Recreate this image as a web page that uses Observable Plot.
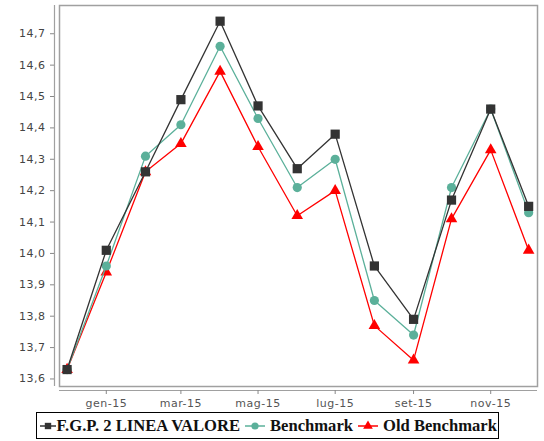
<!DOCTYPE html>
<html><head><meta charset="utf-8">
<script src="https://cdn.jsdelivr.net/npm/d3@7"></script>
<script src="https://cdn.jsdelivr.net/npm/@observablehq/plot@0.6"></script>
<style>
body{margin:0;background:#fff;}
#chart svg{display:block;}
#legend{box-sizing:border-box;margin:2px 0 0 36px;width:463px;height:27px;border:1.5px solid #000;display:flex;align-items:center;
  font-family:"Liberation Serif","DejaVu Serif",serif;font-weight:bold;font-size:16.6px;color:#111;padding-left:2.5px;white-space:nowrap;}
#legend .item{display:flex;align-items:center;margin-right:5px;}
#legend svg{margin-right:5px;}
#legend .item:first-child svg{margin-right:1px;}
</style></head><body><div id="chart"></div><div id="legend"></div>
<script>
const months = ["2014-12-01","2015-01-01","2015-02-01","2015-03-01","2015-04-01","2015-05-01","2015-06-01","2015-07-01","2015-08-01","2015-09-01","2015-10-01","2015-11-01","2015-12-01"];
const fgp      = [13.63,14.01,14.26,14.49,14.74,14.47,14.27,14.38,13.96,13.79,14.17,14.46,14.15];
const bench    = [13.63,13.96,14.31,14.41,14.66,14.43,14.21,14.30,13.85,13.74,14.21,14.46,14.13];
const oldBench = [13.63,13.94,14.26,14.35,14.58,14.34,14.12,14.20,13.77,13.66,14.11,14.33,14.01];
const seriesNames = ["F.G.P. 2 LINEA VALORE","Benchmark","Old Benchmark"];
const seriesColors = ["#333333","#5bb09a","#ff0000"];
const seriesSymbols = ["square","circle","triangle"];
const seriesR = [5.2,4.6,4.3];
const xTickDates = ["2015-01-01","2015-03-01","2015-05-01","2015-07-01","2015-09-01","2015-11-01"];
const xTickLabels = ["gen-15","mar-15","mag-15","lug-15","set-15","nov-15"];
const yTicks = [13.6,13.7,13.8,13.9,14.0,14.1,14.2,14.3,14.4,14.5,14.6,14.7];

const parse = d3.utcParse("%Y-%m-%d");
const seriesValues = [fgp, bench, oldBench];
const rows = [];
seriesNames.forEach((s, k) => months.forEach((m, i) => rows.push({series: s, date: parse(m), value: seriesValues[k][i]})));
const labelMap = new Map(xTickDates.map((d, i) => [+parse(d), xTickLabels[i]]));
const locale = d3.formatLocale({decimal: ",", thousands: ".", grouping: [3], currency: ["€", ""]});
const yFmt = locale.format(".1f");
const xDomain = [parse("2014-11-25"), parse("2015-12-08")];
const yDomain = [13.576, 14.79];

const marks = [
  Plot.frame({stroke: "#a0a0a0", strokeWidth: 1.5}),
  Plot.ruleX([xDomain[0]], {dx: -5, stroke: "#a0a0a0", strokeWidth: 1.2}),
  Plot.ruleY([yDomain[0]], {dy: 4, stroke: "#a0a0a0", strokeWidth: 1.2}),
  Plot.axisY({ticks: yTicks, tickFormat: yFmt, tickSize: 4, dx: -5, tickPadding: 5, stroke: "#888", fill: "#444", label: null}),
  Plot.axisX({ticks: xTickDates.map(parse), tickFormat: d => labelMap.get(+d), tickSize: 4, dy: 4, tickPadding: 5, stroke: "#888", fill: "#555", label: null})
];
for (let k = seriesNames.length - 1; k >= 0; k--) {
  const data = rows.filter(r => r.series === seriesNames[k]);
  marks.push(Plot.line(data, {x: "date", y: "value", stroke: seriesColors[k], strokeWidth: 1.3}));
  marks.push(Plot.dot(data, {x: "date", y: "value", fill: seriesColors[k], symbol: () => seriesSymbols[k], r: seriesR[k]}));
}

const chart = Plot.plot({
  width: 544, height: 410,
  marginLeft: 59, marginRight: 7, marginTop: 5, marginBottom: 24,
  x: {type: "utc", domain: xDomain},
  y: {domain: yDomain},
  symbol: {domain: seriesSymbols, range: seriesSymbols},
  style: {fontFamily: "DejaVu Sans", fontSize: "11px", letterSpacing: "0.5px", background: "#fff"},
  marks
});
document.getElementById("chart").append(chart);

const legend = document.getElementById("legend");
seriesNames.forEach((s, k) => {
  const item = document.createElement("div");
  item.className = "item";
  const ns = "http://www.w3.org/2000/svg";
  const w = k === 0 ? 16 : 20;
  const sv = document.createElementNS(ns, "svg");
  sv.setAttribute("width", w); sv.setAttribute("height", 12);
  const ln = document.createElementNS(ns, "line");
  ln.setAttribute("x1", 0); ln.setAttribute("x2", w); ln.setAttribute("y1", 6); ln.setAttribute("y2", 6);
  ln.setAttribute("stroke", seriesColors[k]); ln.setAttribute("stroke-width", 1.5);
  sv.append(ln);
  const p = document.createElementNS(ns, "path");
  const sym = {square: d3.symbolSquare, circle: d3.symbolCircle, triangle: d3.symbolTriangle}[seriesSymbols[k]];
  p.setAttribute("d", d3.symbol(sym, Math.PI * 3.6 * 3.6)());
  p.setAttribute("transform", `translate(${w / 2},6)`);
  p.setAttribute("fill", seriesColors[k]);
  sv.append(p);
  item.append(sv);
  const t = document.createElement("span");
  t.textContent = s;
  item.append(t);
  legend.append(item);
});
</script></body></html>
